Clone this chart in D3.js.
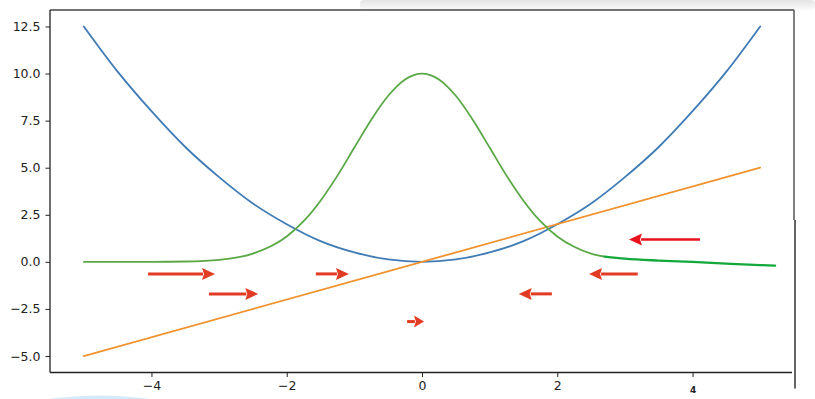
<!DOCTYPE html>
<html>
<head>
<meta charset="utf-8">
<script src="https://cdn.jsdelivr.net/npm/d3@7"></script>
<style>
	body { margin: 0; background: #fff; }
	svg { display: block; }
	.axis text { font-family: 'DejaVu Sans', sans-serif; font-size: 12.5px; fill: #222; }
	.axis path, .axis line { stroke: #222; }
</style>
</head>
<body>
<div class="chart"></div>
<script>
// ---- data ----
const parabolaX = [-5, -4.5, -4, -3.5, -3, -2.5, -2, -1.5, -1, -0.5, 0, 0.5, 1, 1.5, 2, 2.5, 3, 3.5, 4, 4.5, 5],
	parabolaY = [12.5, 10.1, 8.0, 6.1, 4.5, 3.1, 2.0, 1.1, 0.5, 0.13, 0, 0.13, 0.5, 1.1, 2.0, 3.1, 4.5, 6.1, 8.0, 10.1, 12.5];

const lineX = [-5, 5],
	lineY = [-5, 5];

const bellX = [-5, -4.5, -4, -3.5, -3, -2.5, -2, -1.75, -1.5, -1.25, -1, -0.75, -0.5, -0.25, 0, 0.25, 0.5, 0.75, 1, 1.25, 1.5, 1.75, 2, 2.25, 2.5, 2.7],
	bellY = [0, 0, 0, 0.02, 0.11, 0.44, 1.35, 2.16, 3.25, 4.58, 6.07, 7.55, 8.82, 9.69, 10, 9.69, 8.82, 7.55, 6.07, 4.58, 3.25, 2.16, 1.35, 0.8, 0.44, 0.28];

const tailX = [2.7, 3.0, 3.5, 4.0, 4.5, 5.0, 5.22],
	tailY = [0.28, 0.17, 0.07, 0.0, -0.09, -0.17, -0.2];

// arrows: tail x, head x, y (data units)
const arrowFrom = [-4.05, -3.15, -1.57, -0.22, 1.92, 3.19, 4.11],
	arrowTo = [-3.06, -2.42, -1.08, 0.03, 1.43, 2.47, 3.06],
	arrowAt = [-0.64, -1.70, -0.64, -3.17, -1.70, -0.64, 1.19];

const xTicks = [-4, -2, 0, 2, 4],
	xTickLabels = ['\u22124', '\u22122', '0', '2', '4'],
	yTicks = [-5, -2.5, 0, 2.5, 5, 7.5, 10, 12.5];

// ---- layout ----
const outerW = 815,
	outerH = 399;

const margin = { left: 50, right: 21, top: 10, bottom: 26.5 };
const w = outerW - margin.left - margin.right,
	h = outerH - margin.top - margin.bottom;

const x = d3.scaleLinear().domain([-5.5, 5.5]).range([0, w]);
const y = d3.scaleLinear().domain([-5.875, 13.375]).range([h, 0]);

const svg = d3.select('.chart').append('svg')
	.attr('width', outerW)
	.attr('height', outerH);

// screenshot shading at the top right
const defs = svg.append('defs');
const grad = defs.append('linearGradient').attr('id', 'shade').attr('x1', 0).attr('x2', 0).attr('y1', 0).attr('y2', 1);
grad.append('stop').attr('offset', '0%').attr('stop-color', '#e4e4e4');
grad.append('stop').attr('offset', '100%').attr('stop-color', '#fafafa');
svg.append('rect')
	.attr('x', 360).attr('y', 0).attr('width', 455).attr('height', 10)
	.attr('rx', 4)
	.attr('fill', 'url(#shade)');

// faint blue arc bottom-left
svg.append('path')
	.attr('d', 'M 48 399 Q 100 392 150 399 Z')
	.attr('fill', '#d6ebfa');

const g = svg.append('g')
	.attr('transform', `translate(${margin.left}, ${margin.top})`);

// axes
const fmtY = d => d3.format('.1f')(d).replace('-', '\u2212');

const yAxis = g.append('g')
	.attr('class', 'y axis')
	.call(d3.axisLeft(y)
		.tickValues(yTicks)
		.tickFormat(fmtY)
		.tickSize(4.5)
		.tickSizeOuter(0)
		.tickPadding(5)
	);
yAxis.select('.domain').remove();

const xAxis = g.append('g')
	.attr('class', 'x axis')
	.attr('transform', `translate(0, ${h})`)
	.call(d3.axisBottom(x)
		.tickValues(xTicks)
		.tickFormat((d, i) => xTickLabels[i])
		.tickSize(4.5)
		.tickSizeOuter(0)
		.tickPadding(4)
	);
xAxis.select('.domain').remove();
xAxis.selectAll('.tick').filter(d => d === 4).each(function() {
	const t = d3.select(this);
	t.select('line').attr('stroke', '#aaa');
	t.select('text').style('font-size', '9px').style('font-weight', 'bold').attr('dy', '1.3em');
});

// frame
g.append('line').attr('x1', 0).attr('x2', w).attr('y1', 0).attr('y2', 0)
	.attr('stroke', '#444').attr('stroke-width', 1.5);
g.append('line').attr('x1', 0).attr('x2', 0).attr('y1', 0).attr('y2', h)
	.attr('stroke', '#222').attr('stroke-width', 1.3);
g.append('line').attr('x1', 0).attr('x2', w - 2).attr('y1', h).attr('y2', h)
	.attr('stroke', '#222').attr('stroke-width', 1.3);
g.append('line').attr('x1', w).attr('x2', w).attr('y1', 0).attr('y2', 210)
	.attr('stroke', '#555').attr('stroke-width', 1.5);
g.append('line').attr('x1', w + 1).attr('x2', w + 1).attr('y1', 210).attr('y2', h + 16)
	.attr('stroke', '#111').attr('stroke-width', 1.3);

// series
const line = d3.line()
	.x(d => x(d[0]))
	.y(d => y(d[1]))
	.curve(d3.curveMonotoneX);

const series = [
	{ xs: parabolaX, ys: parabolaY, color: '#3f7bb5', width: 1.8 },
	{ xs: lineX, ys: lineY, color: '#f0922f', width: 1.8 },
	{ xs: bellX, ys: bellY, color: '#5aa845', width: 1.8 },
	{ xs: tailX, ys: tailY, color: '#12a83a', width: 2.3 }
];

g.selectAll('.series')
	.data(series)
	.enter().append('path')
	.attr('class', 'series')
	.attr('fill', 'none')
	.attr('stroke', d => d.color)
	.attr('stroke-width', d => d.width)
	.attr('stroke-linecap', 'round')
	.attr('d', d => line(d.xs.map((v, i) => [v, d.ys[i]])));

// arrows
const arrows = arrowFrom.map((v, i) => ({ x0: v, x1: arrowTo[i], y: arrowAt[i], i }));

const gArrows = g.append('g').attr('class', 'arrows');
arrows.forEach(a => {
	const x0 = x(a.x0),
		x1 = x(a.x1),
		yy = y(a.y),
		dir = x1 > x0 ? 1 : -1,
		len = Math.abs(x1 - x0),
		headL = Math.min(13, Math.max(10, len * 0.6)),
		headW = 6,
		col = a.i === 6 ? '#e8121c' : '#e23b24';
	const xb = x1 - dir * headL;
	gArrows.append('line')
		.attr('x1', x0).attr('x2', xb + dir * 1)
		.attr('y1', yy).attr('y2', yy)
		.attr('stroke', col)
		.attr('stroke-width', a.i === 6 ? 2.6 : 3);
	gArrows.append('path')
		.attr('d', `M${x1},${yy} L${xb},${yy - headW} L${xb + dir * 2},${yy} L${xb},${yy + headW} Z`)
		.attr('fill', col);
});
</script>
</body>
</html>
